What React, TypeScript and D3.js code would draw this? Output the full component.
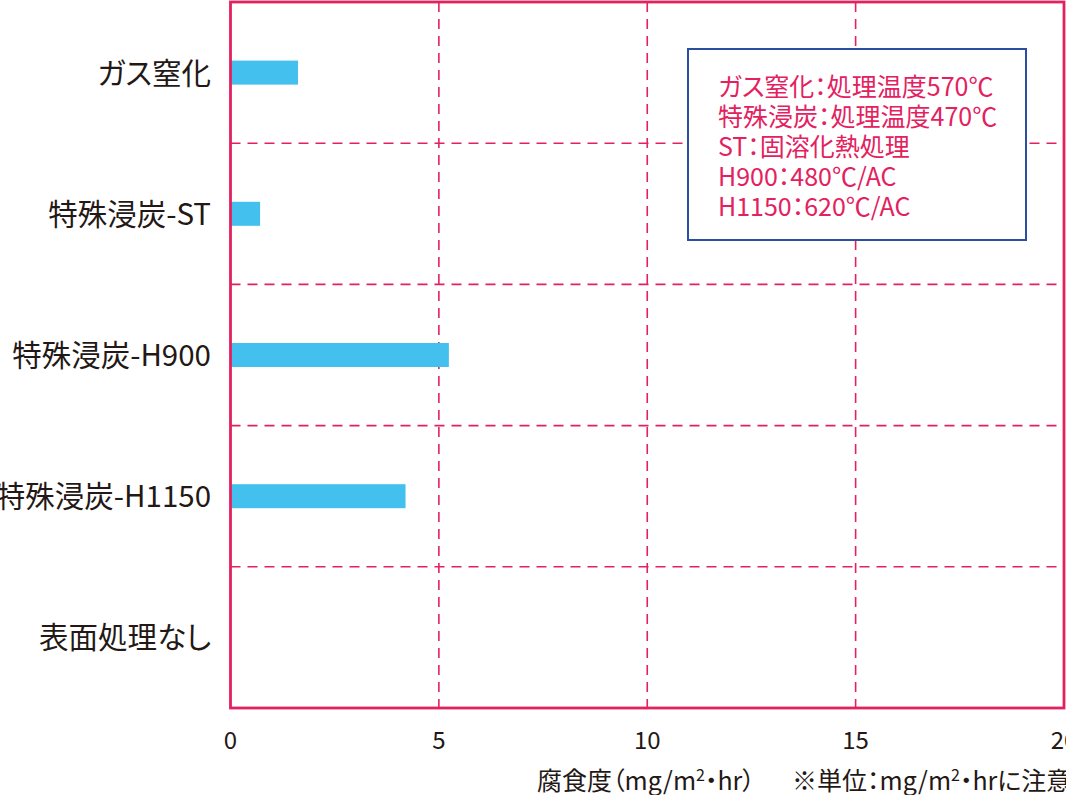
import React from "react";
import * as d3 from "d3";

const categories = ["ガス窒化", "特殊浸炭-ST", "特殊浸炭-H900", "特殊浸炭-H1150", "表面処理なし"];
const values = [1.62, 0.71, 5.24, 4.2, 0];
const xTicks = [0, 5, 10, 15, 20];
const legendLines = [
  "ガス窒化：処理温度570℃",
  "特殊浸炭：処理温度470℃",
  "ST：固溶化熱処理",
  "H900：480℃/AC",
  "H1150：620℃/AC",
];

const W = 1066;
const H = 795;
const CRIMSON = "#e4215f";
const BAR = "#43c0ee";
const BLUE = "#2c4e9e";
const TEXT = "#231815";
const FONT = "'Noto Sans CJK JP', 'Noto Sans', sans-serif";

export default function App() {
  const left = 230.5;
  const right = 1064;
  const top = 2;
  const bottom = 708;
  const x = d3.scaleLinear().domain([0, 20]).range([left, right]);
  const y = d3.scaleBand<string>().domain(categories).range([top, bottom]).padding(0);
  const bw = y.bandwidth();
  const barH = 24;
  const boundaries = categories.slice(1).map((c) => y(c) as number);

  return (
    <div style={{ position: "absolute", left: 0, top: 0 }}>
      <svg width={W} height={H} style={{ display: "block", fontFamily: FONT, fontFeatureSettings: '"palt"' }}>
        <rect x={0} y={0} width={W} height={H} fill="#fff" />
        {/* vertical grid */}
        {xTicks.slice(1, -1).map((t) => (
          <line key={"v" + t} x1={x(t)} x2={x(t)} y1={top} y2={bottom} stroke={CRIMSON} strokeWidth={1.6} strokeDasharray="10 7" />
        ))}
        {/* horizontal grid */}
        {boundaries.map((b, i) => (
          <line key={"h" + i} x1={left} x2={right} y1={b} y2={b} stroke={CRIMSON} strokeWidth={1.6} strokeDasharray="10 7" />
        ))}
        {/* bars */}
        {categories.map((c, i) =>
          values[i] > 0 ? (
            <rect key={c} x={x(0)} y={(y(c) as number) + (bw - barH) / 2} width={x(values[i]) - x(0)} height={barH} fill={BAR} />
          ) : null
        )}
        {/* frame */}
        <rect x={left} y={top} width={right - left} height={bottom - top} fill="none" stroke={CRIMSON} strokeWidth={2.8} />
        {/* category labels */}
        {categories.map((c) => (
          <text key={"l" + c} x={211} y={(y(c) as number) + bw / 2 + 11} textAnchor="end" fontSize={29.5} fill={TEXT}>
            {c}
          </text>
        ))}
        {/* x tick labels */}
        {xTicks.map((t) => (
          <text key={"t" + t} x={x(t)} y={749} textAnchor="middle" fontSize={24} fill={TEXT}>
            {t}
          </text>
        ))}
        {/* axis title */}
        <text x={537} y={790} fontSize={25} fill={TEXT}>
          腐食度（mg/m<tspan fontSize={16} dy={-9}>2</tspan><tspan dy={9}>・hr）</tspan>
        </text>
        <text x={792} y={790} fontSize={25} fill={TEXT}>
          ※単位：mg/m<tspan fontSize={16} dy={-9}>2</tspan><tspan dy={9}>・hrに注意</tspan>
        </text>
        {/* legend */}
        <rect x={688} y={49} width={338} height={191} fill="#fff" stroke={BLUE} strokeWidth={2} />
        {legendLines.map((l, i) => (
          <text key={"g" + i} x={718} y={96 + i * 30} fontSize={25} fill={CRIMSON}>
            {l}
          </text>
        ))}
      </svg>
    </div>
  );
}
